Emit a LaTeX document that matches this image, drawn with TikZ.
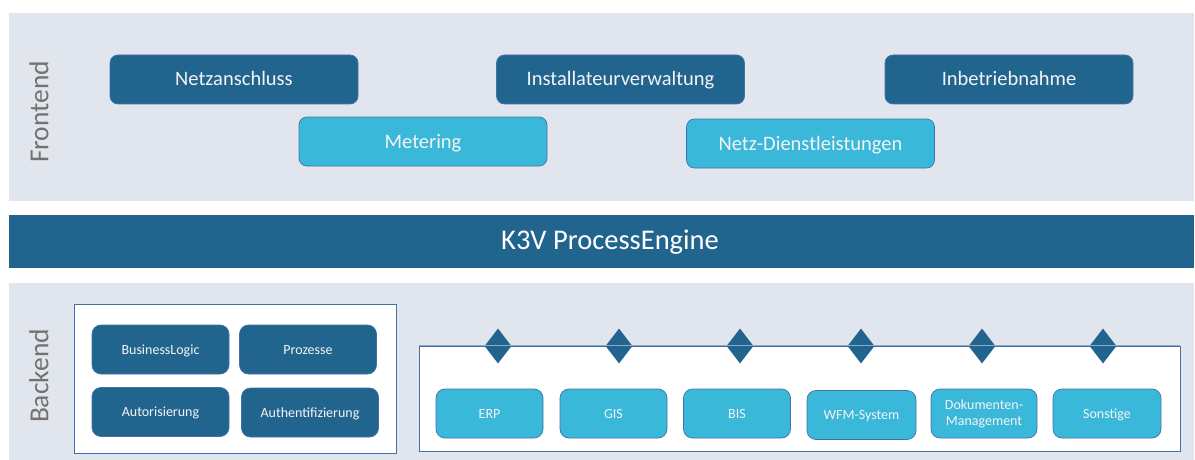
\documentclass[tikz,border=0pt]{standalone}
\usepackage{fontspec}
\setmainfont{Carlito}
\usetikzlibrary{shapes.geometric}
\definecolor{panel}{HTML}{E1E6EE}
\definecolor{darkb}{HTML}{21658F}
\definecolor{lightb}{HTML}{3AB8DA}
\definecolor{edgeb}{HTML}{4470A8}
\definecolor{lbl}{HTML}{767171}
\definecolor{txt}{HTML}{F4F4F4}
\tikzset{
  boxbase/.style={draw=edgeb, line width=0.7pt, text=txt, inner sep=0pt},
  bigdark/.style={boxbase, fill=darkb, rounded corners=8pt, minimum width=248pt, minimum height=49pt, font=\fontsize{20.5}{24}\selectfont, text height=13pt, text depth=0pt},
  biglight/.style={bigdark, fill=lightb},
  smalldark/.style={boxbase, fill=darkb, rounded corners=9pt, minimum width=137pt, minimum height=49pt, font=\fontsize{14}{16}\selectfont, text height=9pt, text depth=0pt},
  smalllight/.style={smalldark, fill=lightb, minimum width=107pt},
  twoline/.style={boxbase, fill=lightb, rounded corners=9pt, minimum width=106pt, minimum height=49pt, font=\fontsize{14}{16}\selectfont, align=center},
  sidelabel/.style={rotate=90, text=lbl, font=\fontsize{27.5}{30}\selectfont},
  conn/.style={diamond, fill=darkb, minimum width=27pt, minimum height=35pt, inner sep=0pt, aspect=0.77},
  whitebox/.style={draw=edgeb, line width=0.8pt, fill=white, inner sep=0pt}
}
\begin{document}
\begin{tikzpicture}[x=1pt,y=-1pt]
\useasboundingbox (0,0) rectangle (1195,460);
% panels
\fill[panel] (9,13) rectangle (1194,201);
\fill[panel] (9,283) rectangle (1194,460);
\fill[darkb] (9,215) rectangle (1194,268);
\node[text=white, font=\fontsize{28.5}{32}\selectfont] (engine) at (610,242) {K3V ProcessEngine};
% labels
\node[sidelabel] (frontend) at (39,112) {Frontend};
\node[sidelabel] (backend) at (39,376) {Backend};
% frontend boxes
\node[bigdark] (netz) at (234,79.5) {Netzanschluss};
\node[bigdark] (inst) at (620.5,79.5) {Installateurverwaltung};
\node[bigdark] (inb) at (1009,79.5) {Inbetriebnahme};
\node[biglight] (met) at (423,141.5) {Metering};
\node[biglight] (nd) at (810.5,143.5) {Netz-Dienstleistungen};
% backend left box
\node[whitebox, minimum width=322pt, minimum height=149pt] (leftbox) at (235,378.5) {};
\node[smalldark] (bl) at (160.5,349.5) {BusinessLogic};
\node[smalldark] (proz) at (308,349.5) {Prozesse};
\node[smalldark] (auto) at (160.5,412) {Autorisierung};
\node[smalldark] (authe) at (310,412.5) {Authentifizierung};
% backend right box
\node[whitebox, minimum width=761pt, minimum height=105pt] (rightbox) at (799.5,398.5) {};
\node[smalllight] (erp) at (489.5,413.5) {ERP};
\node[smalllight] (gis) at (613.5,413.5) {GIS};
\node[smalllight] (bis) at (737,413.5) {BIS};
\node[smalllight, minimum width=109pt] (wfm) at (861.5,415) {WFM-System};
\node[twoline] (dok) at (984,413.5) {Dokumenten-\\Management};
\node[smalllight, minimum width=108pt] (son) at (1107,413.5) {Sonstige};
% connectors
\foreach \n/\x in {c1/498,c2/619,c3/740,c4/861,c5/982,c6/1103}{
  \node[conn] (\n) at (\x,346) {};
}
\draw[edgeb!60, line width=0.6pt] (rightbox.north west) -- (rightbox.north east);
\end{tikzpicture}
\end{document}
